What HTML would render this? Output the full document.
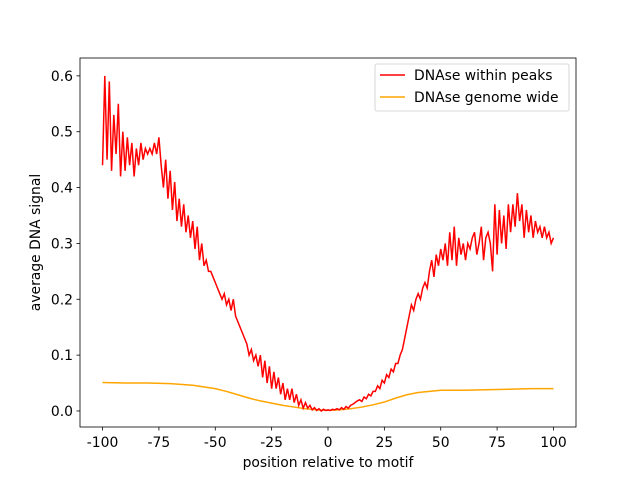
<!DOCTYPE html>
<html><head><meta charset="utf-8"><style>body{margin:0;background:#fff}svg{font-family:"DejaVu Sans","Liberation Sans",sans-serif}</style></head>
<body>
<svg id="c" width="640" height="480"></svg>
<script>
const redValues=[0.44,0.60,0.45,0.59,0.43,0.53,0.46,0.55,0.42,0.50,0.43,
0.49,0.44,0.48,0.42,0.47,0.44,0.48,0.45,0.47,0.46,
0.47,0.46,0.48,0.46,0.49,0.44,0.40,0.45,0.38,0.43,
0.36,0.41,0.34,0.38,0.33,0.37,0.32,0.35,0.31,0.34,
0.29,0.33,0.27,0.30,0.26,0.27,0.25,0.25,0.24,0.23,
0.22,0.21,0.20,0.21,0.19,0.20,0.18,0.20,0.17,0.16,
0.15,0.14,0.13,0.12,0.10,0.11,0.09,0.10,0.08,0.10,
0.06,0.09,0.05,0.08,0.04,0.07,0.04,0.06,0.03,0.05,
0.02,0.04,0.02,0.04,0.015,0.03,0.01,0.02,0.005,0.015,
0.005,0.01,0.002,0.006,0.001,0.004,0.000,0.003,0.001,0.002,
0.001,0.003,0.002,0.004,0.002,0.006,0.003,0.008,0.005,0.01,
0.012,0.015,0.018,0.02,0.017,0.025,0.022,0.03,0.027,0.035,
0.035,0.045,0.04,0.055,0.05,0.065,0.06,0.075,0.07,0.085,
0.085,0.1,0.11,0.13,0.15,0.17,0.19,0.18,0.2,0.21,
0.2,0.22,0.23,0.22,0.25,0.27,0.24,0.28,0.26,0.29,
0.27,0.30,0.26,0.32,0.27,0.33,0.26,0.31,0.28,0.30,
0.27,0.30,0.29,0.31,0.32,0.28,0.30,0.33,0.27,0.31,
0.32,0.30,0.25,0.37,0.28,0.36,0.30,0.35,0.29,0.37,
0.32,0.37,0.33,0.39,0.34,0.37,0.31,0.36,0.32,0.35,
0.31,0.34,0.32,0.33,0.31,0.33,0.31,0.32,0.30,0.31];
const orangeX=[-100,-90,-80,-70,-60,-50,-45,-40,-35,-30,-25,-20,-15,-10,-5,0,5,10,15,20,25,30,35,40,45,50,60,70,80,90,100];
const orangeValues=[0.051,0.050,0.050,0.049,0.046,0.040,0.035,0.029,0.023,0.018,0.014,0.010,0.007,0.004,0.002,0.001,0.002,0.004,0.007,0.011,0.016,0.023,0.029,0.033,0.035,0.037,0.037,0.038,0.039,0.040,0.040];
const xTicks=[-100,-75,-50,-25,0,25,50,75,100];
const yTicks=[0.0,0.1,0.2,0.3,0.4,0.5,0.6];
const L=80,R=576,T=58,B=427,x0=-110,x1=110,y0=-0.0287,y1=0.632,FS=13.9;
const sx=v=>L+(v-x0)/(x1-x0)*(R-L), sy=v=>B-(v-y0)/(y1-y0)*(B-T);
const svg=document.getElementById('c');const NS='http://www.w3.org/2000/svg';
function mk(t,a,p){const e=document.createElementNS(NS,t);for(const k in a)e.setAttribute(k,a[k]);(p||svg).appendChild(e);return e;}
let e=mk('rect',{x:L,y:T,width:R-L,height:B-T,fill:'none',stroke:'#000','stroke-width':0.8});


xTicks.forEach(v=>{const x=sx(v);mk('line',{x1:x,x2:x,y1:B,y2:B+3.5,stroke:'#000','stroke-width':0.8});
const t=mk('text',{x:x,y:B+20,'text-anchor':'middle','font-size':FS});t.textContent=v;

});
yTicks.forEach(v=>{const y=sy(v);mk('line',{x1:L,x2:L-3.5,y1:y,y2:y,stroke:'#000','stroke-width':0.8});
const t=mk('text',{x:L-7,y:y+5,'text-anchor':'end','font-size':FS});t.textContent=v.toFixed(1);

});
let t=mk('text',{x:(L+R)/2,y:467,'text-anchor':'middle','font-size':FS});t.textContent='position relative to motif';


t=mk('text',{x:40,y:(T+B)/2,'text-anchor':'middle','font-size':FS,transform:`rotate(-90 40 ${(T+B)/2})`});t.textContent='average DNA signal';


let p=mk('polyline',{points:orangeX.map((x,i)=>sx(x)+','+sy(orangeValues[i])).join(' '),fill:'none',stroke:'orange','stroke-width':1.5});


p=mk('polyline',{points:redValues.map((v,i)=>sx(i-100)+','+sy(v)).join(' '),fill:'none',stroke:'red','stroke-width':1.5});


const g=mk('g',{});


mk('rect',{x:375,y:64,width:194,height:47,rx:2,fill:'#fff',stroke:'#ccc','stroke-width':0.8},g);
[['DNAse within peaks','red',75],['DNAse genome wide','orange',97]].forEach(([s,c,y])=>{
mk('line',{x1:380,x2:405,y1:y,y2:y,stroke:c,'stroke-width':1.5},g);
const tt=mk('text',{x:414,y:y+5,'font-size':FS},g);tt.textContent=s;

});
</script>
</body></html>
